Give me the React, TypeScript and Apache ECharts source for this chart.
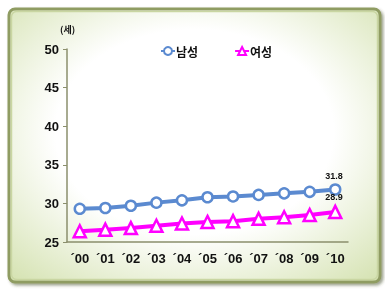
import React, { useEffect, useRef } from "react";
import * as echarts from "echarts";

const categories = ["´00", "´01", "´02", "´03", "´04", "´05", "´06", "´07", "´08", "´09", "´10"];
const maleAges = [29.3, 29.4, 29.7, 30.1, 30.4, 30.8, 30.9, 31.1, 31.3, 31.5, 31.8];
const femaleAges = [26.4, 26.6, 26.8, 27.1, 27.4, 27.6, 27.7, 28.0, 28.2, 28.5, 28.9];
const seriesNames = ["남성", "여성"];
const unitLabel = "(세)";

const FONT = "'Liberation Sans', Arial, sans-serif";

const withLastLabel = (values: number[], half: number, gap: number) =>
  values.map((v, i) =>
    i === values.length - 1
      ? {
          value: v,
          label: {
            show: true,
            position: [half, -gap],
            align: "center",
            verticalAlign: "bottom",
            fontSize: 9,
            fontWeight: "bold",
            fontFamily: FONT,
            color: "#111",
            formatter: v.toFixed(1),
          },
        }
      : v
  );

export default function App() {
  const ref = useRef<HTMLDivElement>(null);
  useEffect(() => {
    if (!ref.current) return;
    const chart = echarts.init(ref.current, null, { renderer: "svg" });
    chart.setOption({
      animation: false,
      graphic: [
        {
          type: "rect",
          z: -10,
          shape: { x: 9, y: 9, width: 371, height: 273, r: 6 },
          style: {
            fill: {
              type: "radial",
              x: 0.5,
              y: 0.45,
              r: 0.75,
              colorStops: [
                { offset: 0, color: "#ffffff" },
                { offset: 0.5, color: "#ffffff" },
                { offset: 1, color: "#d3e1ae" },
              ],
            },
            stroke: "#8f9c62",
            lineWidth: 3,
            shadowBlur: 3,
            shadowOffsetX: 2,
            shadowOffsetY: 2,
            shadowColor: "rgba(60,70,30,0.5)",
          },
        },
        {
          type: "rect",
          z: -9,
          shape: { x: 11.5, y: 11.5, width: 366, height: 268, r: 5 },
          style: { fill: "none", stroke: "#c9d6a2", lineWidth: 1.5 },
        },
        {
          type: "text",
          x: 60,
          y: 25,
          style: { text: unitLabel, fontSize: 9, fontWeight: "bold", fontFamily: "'Noto Sans CJK KR', sans-serif", fill: "#111" },
        },
      ],
      legend: {
        top: 40,
        left: 155,
        itemGap: 36,
        itemWidth: 14,
        itemHeight: 10,
        textStyle: { fontSize: 12, fontWeight: "bold", fontFamily: "'Noto Sans CJK KR', sans-serif", color: "#111", padding: [0, 0, 0, -4] },
        data: seriesNames,
      },
      grid: { left: 67, right: 37, top: 49, bottom: 49 },
      xAxis: {
        type: "category",
        data: categories,
        boundaryGap: true,
        axisLine: { lineStyle: { color: "#8b8f6c", width: 1.5 } },
        axisTick: { show: false },
        axisLabel: { fontSize: 13, fontWeight: "bold", fontFamily: FONT, color: "#111", margin: 10 },
      },
      yAxis: {
        type: "value",
        min: 25,
        max: 50,
        interval: 5,
        splitLine: { show: false },
        axisLine: { show: true, lineStyle: { color: "#8b8f6c", width: 1.5 } },
        axisTick: { show: true, length: 4, lineStyle: { color: "#8b8f6c" } },
        axisLabel: { fontSize: 13, fontWeight: "bold", fontFamily: FONT, color: "#111", margin: 8 },
      },
      series: [
        {
          name: seriesNames[0],
          type: "line",
          data: withLastLabel(maleAges, 5, 3),
          symbol: "circle",
          symbolSize: 10,
          lineStyle: { color: "#5b8ad0", width: 4 },
          itemStyle: { color: "#ffffff", borderColor: "#5b8ad0", borderWidth: 2.5 },
        },
        {
          name: seriesNames[1],
          type: "line",
          data: withLastLabel(femaleAges, 6, 3),
          symbol: "triangle",
          symbolSize: 12,
          lineStyle: { color: "#ff00ff", width: 4 },
          itemStyle: { color: "#ffffff", borderColor: "#ff00ff", borderWidth: 2.5 },
        },
      ],
    });
    return () => chart.dispose();
  }, []);
  return <div ref={ref} style={{ position: "fixed", left: 0, top: 0, width: 385, height: 291 }} />;
}
